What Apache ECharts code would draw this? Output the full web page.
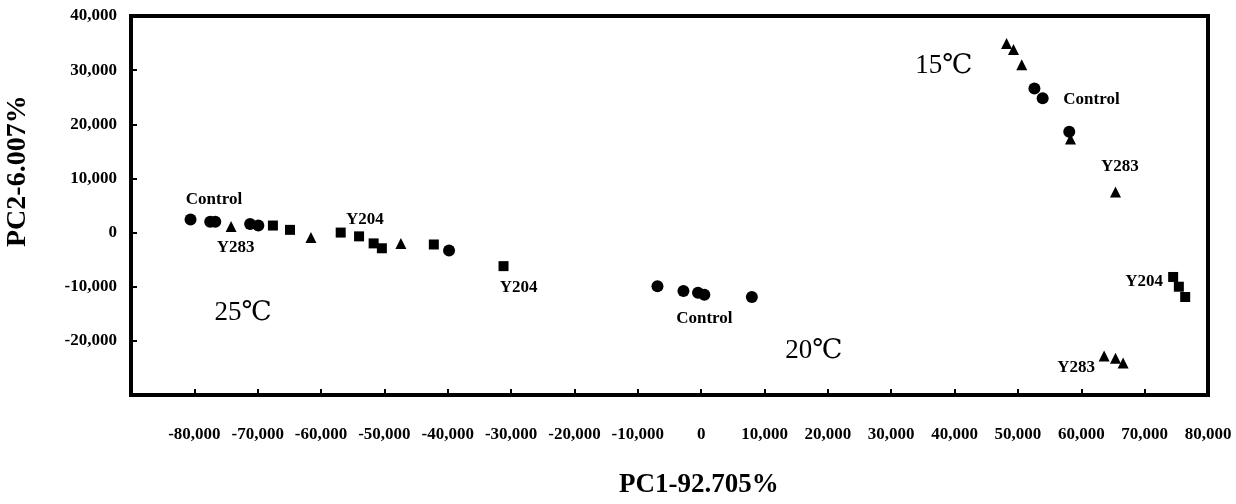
<!DOCTYPE html>
<html>
<head>
    <meta charset="UTF-8">
    <title>PCA scatter</title>
    <script src="https://cdn.jsdelivr.net/npm/echarts@6/dist/echarts.min.js"></script>
    <style>
        body { margin: 0; background: #fff; }
    </style>
</head>
<body>
<div id="pca" style="width:1236px; height:504px;"></div>
<script>
    // points: [PC1, PC2]
    var circlePts = [
        [-80600, 2400], [-77500, 2000], [-76700, 2000], [-71200, 1600], [-69900, 1300],
        [-39800, -3300],
        [-6900, -9900], [-2800, -10800], [-500, -11100], [500, -11500], [8000, -11900],
        [52600, 26600], [53900, 24800], [58100, 18600]
    ];
    var trianglePts = [
        [-74200, 1100], [-61600, -900], [-47400, -2000],
        [48200, 34900], [49300, 33800], [50600, 31000], [58300, 17300], [65400, 7500],
        [63600, -22800], [65400, -23200], [66600, -24100]
    ];
    var squarePts = [
        [-67600, 1300], [-64900, 500], [-56900, 0], [-54000, -700], [-51700, -2000],
        [-50400, -2900], [-42200, -2200], [-31200, -6200],
        [74500, -8200], [75400, -10000], [76400, -11900]
    ];

    // text notes in the plot, placed in data units
    var noteText = ['Control', 'Y283', 'Y204', 'Y204', 'Control', 'Control', 'Y283', 'Y204', 'Y283'];
    var noteX    = [-76900, -73500, -53100, -28800, 500, 61600, 66100, 69900, 59200];
    var noteY    = [6000, -2700, 2400, -10200, -15900, 24500, 12200, -9100, -25000];

    var tempText = ['25℃', '20℃', '15℃'];
    var tempX    = [-72300, 17800, 38300];
    var tempY    = [-14800, -21900, 30700];

    var serif = "'Liberation Serif', 'DejaVu Serif', serif";

    function notes(texts, xs, ys) {
        return texts.map(function (t, i) { return { name: t, value: [xs[i], ys[i]] }; });
    }

    function pointSeries(pts, shape, size) {
        return {
            type: 'scatter',
            data: pts,
            symbol: shape,
            symbolSize: size,
            itemStyle: { color: '#000', opacity: 1 },
            silent: true
        };
    }

    function textSeries(data, fontSize, weight) {
        return {
            type: 'scatter',
            data: data,
            symbolSize: 0,
            silent: true,
            itemStyle: { opacity: 1 },
            label: {
                show: true,
                position: 'inside',
                formatter: '{b}',
                color: '#000',
                fontFamily: serif,
                fontSize: fontSize,
                fontWeight: weight
            }
        };
    }

    var fmt = function (v) { return v.toLocaleString('en-US'); };

    var chart = echarts.init(document.getElementById('pca'), null, {renderer: 'canvas'});
    chart.setOption({
        animation: false,
        backgroundColor: '#fff',
        grid: {
            left: 131, right: 28, top: 16, bottom: 109,
            show: true, borderColor: '#000', borderWidth: 4
        },
        xAxis: {
            type: 'value',
            min: -90000, max: 80000, interval: 10000,
            splitLine: { show: false },
            axisLine: { show: false, onZero: false },
            axisTick: { inside: true, length: 6, lineStyle: { color: '#000', width: 2 } },
            axisLabel: {
                showMinLabel: false, margin: 31, formatter: fmt,
                color: '#000', fontFamily: serif, fontSize: 17, fontWeight: 'bold'
            }
        },
        yAxis: {
            type: 'value',
            min: -30000, max: 40000, interval: 10000,
            splitLine: { show: false },
            axisLine: { show: false, onZero: false },
            axisTick: { inside: true, length: 6, lineStyle: { color: '#000', width: 2 } },
            axisLabel: {
                showMinLabel: false, margin: 14, formatter: fmt,
                color: '#000', fontFamily: serif, fontSize: 17, fontWeight: 'bold'
            }
        },
        graphic: [
            {
                type: 'text', left: 619, top: 472,
                style: { text: 'PC1-92.705%', fill: '#000', font: 'bold 27px ' + serif }
            },
            {
                type: 'text', x: 4, y: 247, rotation: Math.PI / 2,
                style: { text: 'PC2-6.007%', fill: '#000', font: 'bold 28px ' + serif }
            }
        ],
        series: [
            pointSeries(circlePts, 'circle', 12),
            pointSeries(squarePts, 'rect', 10),
            pointSeries(trianglePts, 'triangle', 11),
            textSeries(notes(noteText, noteX, noteY), 17, 'bold'),
            textSeries(notes(tempText, tempX, tempY), 27, 'normal')
        ]
    });
</script>
</body>
</html>
